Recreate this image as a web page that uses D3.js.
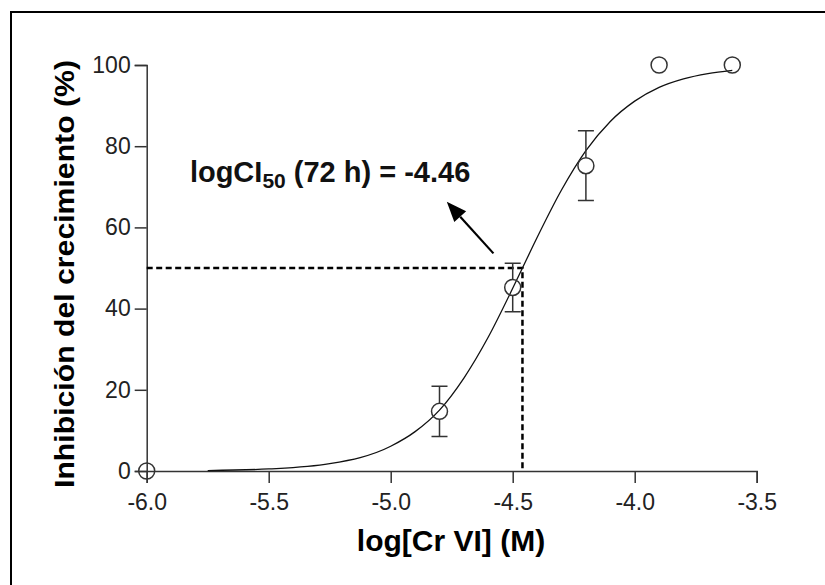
<!DOCTYPE html>
<html>
<head>
<meta charset="utf-8">
<script src="https://cdn.jsdelivr.net/npm/d3@7"></script>
<style>
  html, body { margin: 0; padding: 0; background: #fff; }
  svg { display: block; font-family: Arial, "Liberation Sans", sans-serif; }
</style>
</head>
<body>
<svg id="chart" width="825" height="585"></svg>
<script>
// data
var doses = [-6.0, -4.8, -4.5, -4.2, -3.9, -3.6],
  inhibition = [0, 14.7, 45.2, 75.2, 100, 100],
  errors = [0, 6.2, 6.0, 8.6, 0, 0];

// fitted curve, read as points along the drawn line
var fitX = [-5.75, -5.5, -5.25, -5.0, -4.9, -4.8, -4.7, -4.6, -4.5, -4.46, -4.4, -4.3, -4.2, -4.1, -4.0, -3.9, -3.8, -3.7, -3.6],
  fitY = [0.1, 0.5, 1.8, 6.1, 9.7, 15.0, 22.9, 33.0, 45.0, 50, 57.5, 69.2, 78.9, 86.1, 91.1, 94.5, 96.6, 97.9, 98.7];

var logIC50 = -4.46,
  xTicks = [-6.0, -5.5, -5.0, -4.5, -4.0, -3.5],
  yTicks = [0, 20, 40, 60, 80, 100],
  xMinor = d3.range(-6.0, -3.45, 0.1),
  yMinor = d3.range(0, 101, 10);

// annotation arrow, tail -> tip in data units
var arrowFrom = [-4.579, 53.6],
  arrowTo = [-4.770, 66.3],
  noteAt = [-5.823, 71.3];

var svg = d3.select("#chart"),
  ink = "#333";

var x = d3.scaleLinear().domain([-6.0, -3.5]).range([146.7, 756.7]),
  y = d3.scaleLinear().domain([0, 100]).range([471, 65]);

// frame of the figure (only left + top edges show)
svg.append("path")
  .attr("d", "M11,585 L11,12 L825,12")
  .attr("fill", "none")
  .attr("stroke", "#000")
  .attr("stroke-width", 2);

// axes
var xAxis = svg.append("g").attr("transform", "translate(0," + y(0) + ")");
xAxis.call(d3.axisBottom(x).tickValues(xMinor).tickSize(6).tickFormat(""));
xAxis.call(d3.axisBottom(x).tickValues(xTicks).tickSize(12).tickPadding(10)
  .tickFormat(d3.format(".1f")));

var yAxis = svg.append("g").attr("transform", "translate(" + x(-6) + ",0)");
yAxis.call(d3.axisLeft(y).tickValues(yMinor).tickSize(6).tickFormat(""));
yAxis.call(d3.axisLeft(y).tickValues(yTicks).tickSize(12).tickPadding(4));

svg.selectAll(".domain").attr("stroke", ink).attr("stroke-width", 1.5);
svg.selectAll(".tick line").attr("stroke", ink).attr("stroke-width", 1.5);
svg.selectAll(".tick text")
  .attr("font-size", 23)
  .attr("font-family", "Arial, 'Liberation Sans', sans-serif")
  .attr("fill", "#222");
xAxis.selectAll(".tick text").attr("dy", "0.75em");
// d3 uses a unicode minus, the figure uses a hyphen
xAxis.selectAll(".tick text").text(function(d){ return d.toFixed(1); });

// axis titles
svg.append("text")
  .attr("x", 451)
  .attr("y", 551)
  .attr("text-anchor", "middle")
  .attr("font-size", 30)
  .attr("font-weight", "bold")
  .text("log[Cr VI] (M)");

svg.append("text")
  .attr("transform", "translate(74,274) rotate(-90)")
  .attr("text-anchor", "middle")
  .attr("font-size", 27)
  .attr("font-weight", "bold")
  .attr("textLength", 428)
  .attr("lengthAdjust", "spacingAndGlyphs")
  .text("Inhibición del crecimiento (%)");

// IC50 guide lines
svg.append("path")
  .attr("d", "M" + x(-6) + "," + y(50) + " L" + x(logIC50) + "," + y(50) +
    " L" + x(logIC50) + "," + y(0))
  .attr("fill", "none")
  .attr("stroke", "#000")
  .attr("stroke-width", 2.5)
  .attr("stroke-dasharray", "6,3.5");

// fitted curve
var line = d3.line()
  .x(function(d){ return x(d[0]); })
  .y(function(d){ return y(d[1]); })
  .curve(d3.curveMonotoneX);

svg.append("path")
  .datum(d3.zip(fitX, fitY))
  .attr("d", line)
  .attr("fill", "none")
  .attr("stroke", "#111")
  .attr("stroke-width", 1.3);

// points with error bars
var r = 8, cap = 8;
var pts = svg.append("g").selectAll("g")
  .data(d3.zip(doses, inhibition, errors))
  .join("g");

pts.filter(function(d){ return d[2] > 0; }).each(function(d){
  var g = d3.select(this),
    cx = x(d[0]),
    top = y(d[1] + d[2]),
    bot = y(d[1] - d[2]),
    cy = y(d[1]);
  g.append("path")
    .attr("d", "M" + cx + "," + top + " L" + cx + "," + (cy - r) +
      " M" + cx + "," + (cy + r) + " L" + cx + "," + bot +
      " M" + (cx - cap) + "," + top + " L" + (cx + cap) + "," + top +
      " M" + (cx - cap) + "," + bot + " L" + (cx + cap) + "," + bot)
    .attr("fill", "none")
    .attr("stroke", ink)
    .attr("stroke-width", 1.5);
});

pts.append("circle")
  .attr("cx", function(d){ return x(d[0]); })
  .attr("cy", function(d){ return y(d[1]); })
  .attr("r", r)
  .attr("fill", "none")
  .attr("stroke", ink)
  .attr("stroke-width", 1.5);

// annotation
var note = svg.append("text")
  .attr("x", x(noteAt[0]))
  .attr("y", y(noteAt[1]))
  .attr("font-size", 29)
  .attr("font-weight", "bold")
  .attr("fill", "#111");
note.append("tspan").text("logCI");
note.append("tspan").attr("font-size", 21).attr("dy", 6.6).text("50");
note.append("tspan").attr("dy", -6.6).text(" (72 h) = -4.46");

// arrow
var x0 = x(arrowFrom[0]), y0 = y(arrowFrom[1]),
  x1 = x(arrowTo[0]), y1 = y(arrowTo[1]),
  ang = Math.atan2(y1 - y0, x1 - x0),
  headL = 20, headW = 8,
  bx = x1 - headL * Math.cos(ang), by = y1 - headL * Math.sin(ang);

svg.append("line")
  .attr("x1", x0).attr("y1", y0)
  .attr("x2", bx).attr("y2", by)
  .attr("stroke", "#000")
  .attr("stroke-width", 2.2);

svg.append("polygon")
  .attr("points", [
    [x1, y1],
    [bx + headW * Math.sin(ang), by - headW * Math.cos(ang)],
    [bx - headW * Math.sin(ang), by + headW * Math.cos(ang)]
  ].map(function(p){ return p.join(","); }).join(" "))
  .attr("fill", "#000");
</script>
</body>
</html>
